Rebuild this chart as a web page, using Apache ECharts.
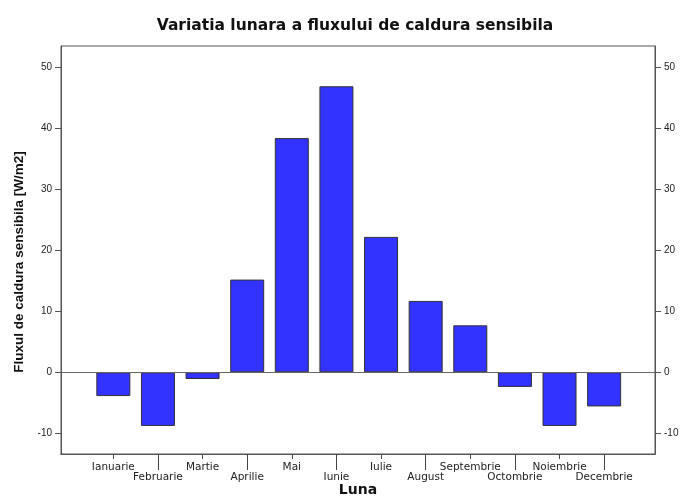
<!DOCTYPE html>
<html>
<head>
<meta charset="utf-8">
<script src="https://cdn.jsdelivr.net/npm/echarts@6/dist/echarts.min.js"></script>
<style>html,body{margin:0;padding:0;background:#fff;}#c{width:682px;height:496px;}</style>
</head>
<body>
<div id="c"></div>
<script>
const months = ['Ianuarie','Februarie','Martie','Aprilie','Mai','Iunie','Iulie','August','Septembrie','Octombrie','Noiembrie','Decembrie'];
const values = [-3.9, -8.8, -1.1, 15.2, 38.4, 46.9, 22.2, 11.7, 7.7, -2.4, -8.8, -5.6];
const yTicks = [-10, 0, 10, 20, 30, 40, 50];

const idx = months.map((m, i) => i);
const evenIdx = idx.filter(i => i % 2 === 0);
const oddIdx = idx.filter(i => i % 2 === 1);
const fontFam = '"Liberation Sans", Arial, sans-serif';
const wideFam = '"DejaVu Sans", sans-serif';

const chart = echarts.init(document.getElementById('c'));
const yAxisBase = {
  type: 'value', min: -13.4, max: 53.5,
  axisLine: {show: true, onZero: false, lineStyle: {color: '#555', width: 1}},
  axisTick: {show: true, length: 6, customValues: yTicks, lineStyle: {color: '#555'}},
  axisLabel: {customValues: yTicks, fontFamily: fontFam, fontSize: 10, color: '#222', margin: 9},
  splitLine: {show: false}
};
const xAxisBase = {
  type: 'value', min: -1.173, max: 12.14, position: 'bottom', offset: 0,
  axisLine: {show: true, onZero: false, lineStyle: {color: '#555', width: 1}},
  splitLine: {show: false}
};
chart.setOption({
  animation: false,
  title: {
    text: 'Variatia lunara a fluxului de caldura sensibila',
    left: 350, top: 13, textAlign: 'center',
    textStyle: {fontFamily: wideFam, fontSize: 15.5, fontWeight: 'bold', color: '#111'}
  },
  grid: {left: 61, right: 27, top: 46, bottom: 42, containLabel: false, outerBoundsMode: 'none',
         show: true, borderColor: '#555', borderWidth: 1, backgroundColor: 'transparent'},
  xAxis: [
    Object.assign({}, xAxisBase, {
      name: 'Luna', nameLocation: 'middle', nameGap: 29,
      nameTextStyle: {fontFamily: wideFam, fontSize: 14, fontWeight: 'bold', color: '#111'},
      axisTick: {show: true, length: 5, customValues: evenIdx, lineStyle: {color: '#444'}},
      axisLabel: {customValues: evenIdx, formatter: v => months[Math.round(v)], fontFamily: wideFam, fontSize: 10.5, color: '#222', margin: 8}
    }),
    Object.assign({}, xAxisBase, {
      axisTick: {show: true, length: 16, customValues: oddIdx, lineStyle: {color: '#444'}},
      axisLabel: {customValues: oddIdx, formatter: v => months[Math.round(v)], fontFamily: wideFam, fontSize: 10.5, color: '#222', margin: 18}
    })
  ],
  yAxis: [
    Object.assign({}, yAxisBase, {
      position: 'left',
      name: 'Fluxul de caldura sensibila [W/m2]', nameLocation: 'middle', nameGap: 34, nameRotate: 90,
      nameTextStyle: {fontFamily: '"Liberation Sans Narrow", "Arial Narrow", "Liberation Sans", sans-serif', fontSize: 13.5, fontWeight: 'bold', color: '#111', padding: [0, 24, 0, 0]}
    }),
    Object.assign({}, yAxisBase, {position: 'right', margin: 8})
  ],
  series: [{
    type: 'bar', xAxisIndex: 0, yAxisIndex: 0,
    data: values.map((v, i) => [i, v]),
    barWidth: 34,
    itemStyle: {color: '#3333ff', borderColor: '#333', borderWidth: 1},
    markLine: {
      silent: true, symbol: 'none', label: {show: false},
      lineStyle: {color: '#666', width: 1, type: 'solid'},
      data: [{yAxis: 0}]
    }
  }]
});
</script>
</body>
</html>
